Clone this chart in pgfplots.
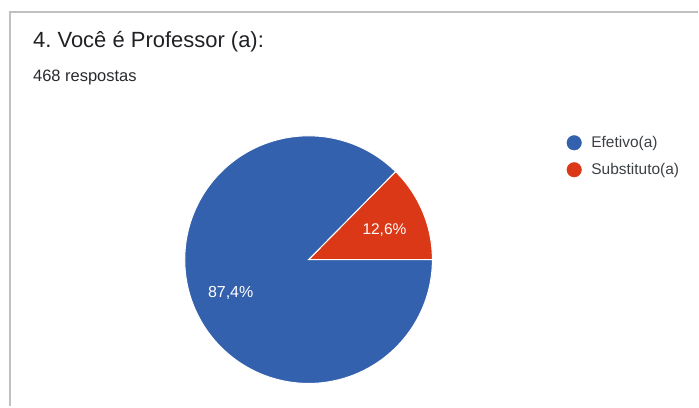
\documentclass[border=0pt]{standalone}
\usepackage{pgfplots}
\pgfplotsset{compat=1.18}
\usepackage{fontspec}
\setmainfont{Liberation Sans}
\frenchspacing
\definecolor{pieblue}{RGB}{52,97,173}
\definecolor{piered}{RGB}{218,56,22}
\definecolor{titlegray}{RGB}{32,33,36}
\definecolor{subgray}{RGB}{40,42,45}
\definecolor{leggray}{RGB}{60,64,67}
\definecolor{framegray}{RGB}{192,192,192}
% data: share in percent
\def\valA{87.4}% Efetivo(a)
\def\valB{12.6}% Substituto(a)
\begin{document}
\begin{tikzpicture}
\begin{axis}[
  at={(0,0)}, anchor=south west,
  hide axis, scale only axis,
  width=699pt, height=407pt,
  xmin=0, xmax=699, ymin=0, ymax=407,
  clip=false,
]
\path (axis cs:0,0) rectangle (axis cs:699,407);
% frame
\addplot[framegray, line width=2pt, mark=none] coordinates {(10,0) (10,395) (699,395)};
% pie
\pgfmathsetmacro{\angB}{\valB*3.6}
\addplot[fill=piered, draw=white, line width=1pt, domain=0:\angB, samples=40, variable=\t]
  ({309+124*cos(t)}, {147+124*sin(t)}) -- (axis cs:309,147) -- cycle;
\addplot[fill=pieblue, draw=white, line width=1pt, domain=\angB:360, samples=200, variable=\t]
  ({309+124*cos(t)}, {147+124*sin(t)}) -- (axis cs:309,147) -- cycle;
% legend markers
\addplot[only marks, mark=*, mark size=7.3pt, color=pieblue] coordinates {(575,264)};
\addplot[only marks, mark=*, mark size=7.3pt, color=piered] coordinates {(575,237)};
% texts
\node[anchor=base west, text=titlegray, inner sep=0pt] at (axis cs:33,359) {\fontsize{22}{26}\selectfont 4. Você é Professor (a):};
\node[anchor=base west, text=subgray, inner sep=0pt] at (axis cs:33,325) {\fontsize{16.5}{20}\selectfont 468 respostas};
\node[anchor=base west, text=leggray, inner sep=0pt] at (axis cs:592,259) {\fontsize{15.5}{19}\selectfont Efetivo(a)};
\node[anchor=base west, text=leggray, inner sep=0pt] at (axis cs:592,232) {\fontsize{15.5}{19}\selectfont Substituto(a)};
\node[text=white, inner sep=0pt] at (axis cs:385,177) {\fontsize{15.5}{19}\selectfont 12,6\%};
\node[text=white, inner sep=0pt] at (axis cs:231,114) {\fontsize{16}{19}\selectfont 87,4\%};
\end{axis}
\end{tikzpicture}
\end{document}
